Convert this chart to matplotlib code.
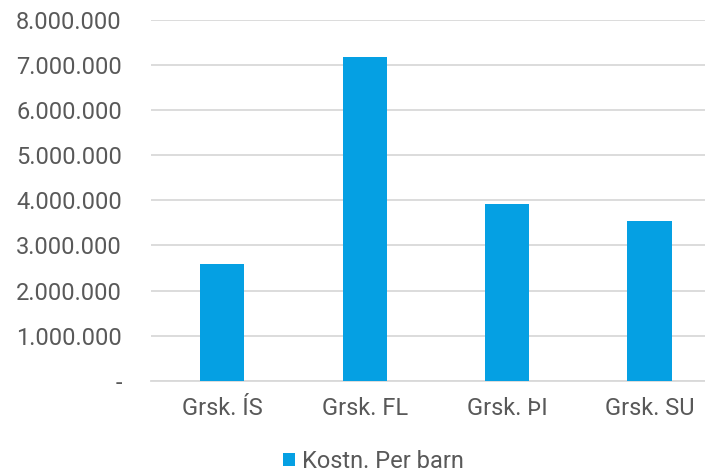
import numpy as np
import matplotlib.pyplot as plt

categories = ["Grsk. ÍS", "Grsk. FL", "Grsk. ÞI", "Grsk. SU"]
values = [2590000, 7170000, 3920000, 3550000]
series_name = "Kostn. Per barn"
yticks = [0, 1000000, 2000000, 3000000, 4000000, 5000000, 6000000, 7000000, 8000000]


def fmt(v):
    # Icelandic style thousands separator, zero shown as dash
    if v == 0:
        return "-"
    return f"{int(v):,}".replace(",", ".")


plt.rcParams['font.family'] = ['Roboto', 'DejaVu Sans']
text_color = "#595959"
grid_color = "#D9D9D9"

fig = plt.figure(figsize=(7.05, 4.74), dpi=100)
ax = fig.add_axes([151 / 705, 1 - 380.7 / 474, (705 - 151) / 705, (380.7 - 20) / 474])

x = np.arange(len(categories))
ax.bar(x, values, width=0.31, color="#05A0E3", label=series_name, zorder=3)

ax.set_ylim(0, 8000000)
ax.set_xlim(-0.5, 3.39)
ax.set_yticks(yticks)
ax.set_yticklabels([fmt(v) for v in yticks])
ax.set_xticks(x)
ax.set_xticklabels(categories)

ax.grid(axis='y', color=grid_color, linewidth=1.3, zorder=0)
for s in ['top', 'right', 'left']:
    ax.spines[s].set_visible(False)
ax.spines['bottom'].set_color(grid_color)
ax.spines['bottom'].set_linewidth(1.3)
ax.tick_params(axis='both', length=0, labelsize=17, colors=text_color)
ax.tick_params(axis='y', pad=21)
ax.tick_params(axis='x', pad=12)

leg = fig.legend(loc='lower center', bbox_to_anchor=(0.53, -0.042), frameon=False,
                 fontsize=17, handlelength=0.5, handleheight=0.5, handletextpad=0.3)
for t in leg.get_texts():
    t.set_color(text_color)

fig.savefig("out.png", dpi=100)
